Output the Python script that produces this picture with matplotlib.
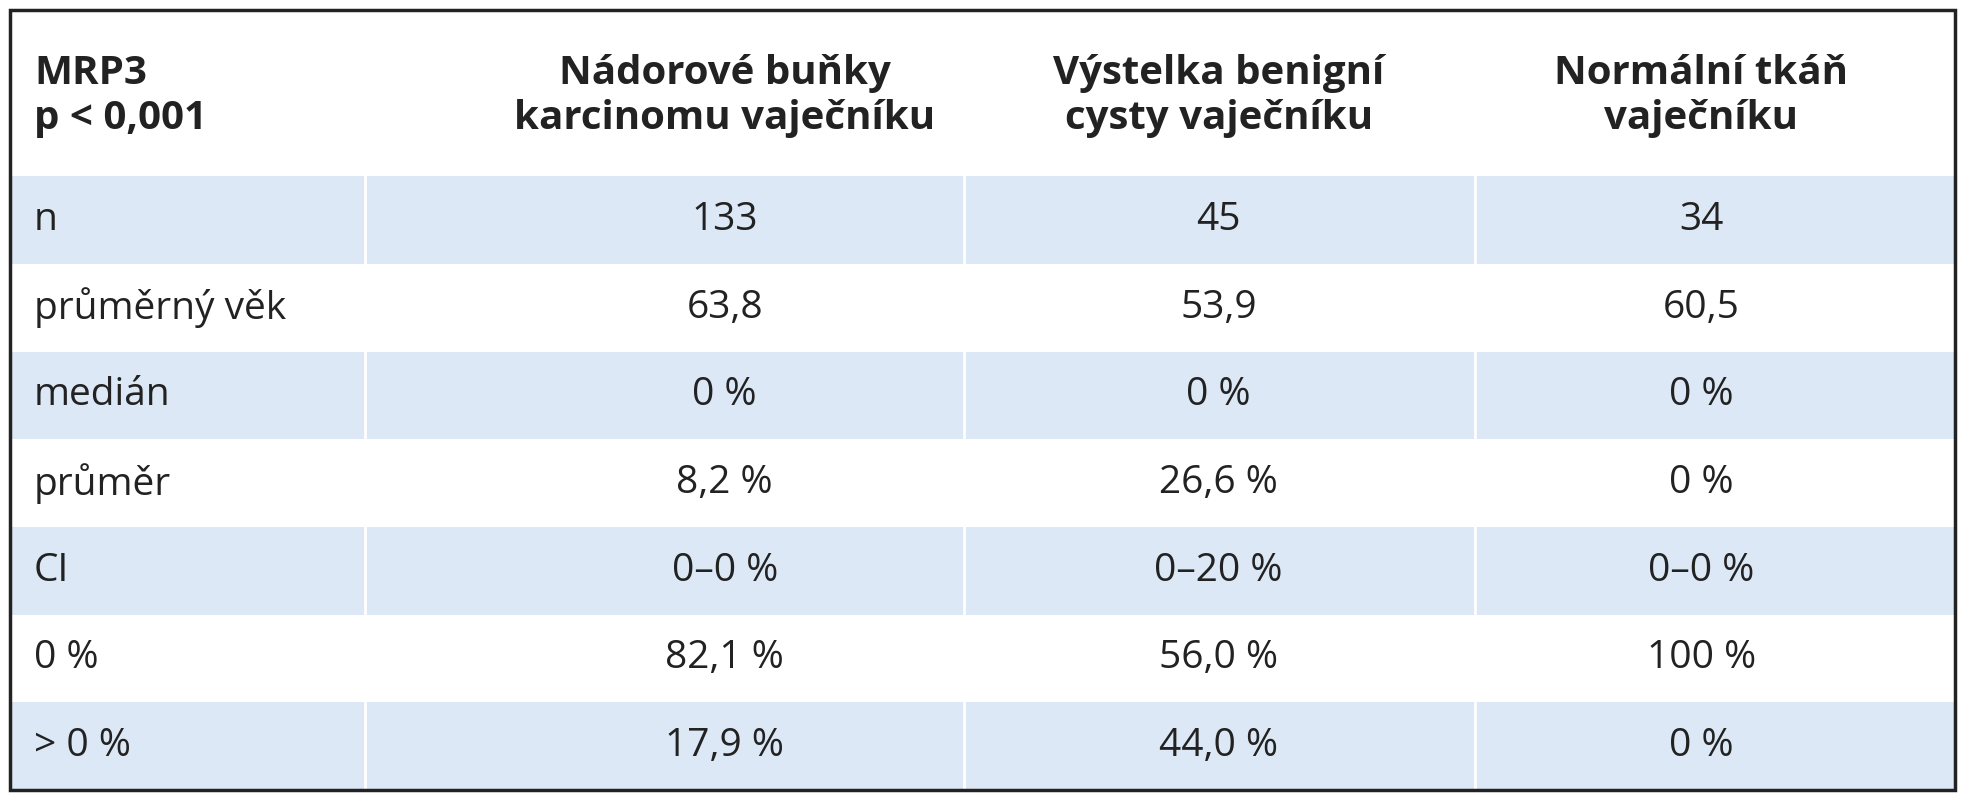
import matplotlib
matplotlib.use("Agg")
import matplotlib.pyplot as plt
from matplotlib.patches import Rectangle

header = ["MRP3\np < 0,001", "Nádorové buňky\nkarcinomu vaječníku", "Výstelka benigní\ncysty vaječníku", "Normální tkáň\nvaječníku"]
row_labels = ["n", "průměrný věk", "medián", "průměr", "CI", "0 %", "> 0 %"]
col1 = ["133", "63,8", "0 %", "8,2 %", "0–0 %", "82,1 %", "17,9 %"]
col2 = ["45", "53,9", "0 %", "26,6 %", "0–20 %", "56,0 %", "44,0 %"]
col3 = ["34", "60,5", "0 %", "0 %", "0–0 %", "100 %", "0 %"]

plt.rcParams['font.family'] = ['Open Sans', 'DejaVu Sans']
fig = plt.figure(figsize=(19.66, 8), dpi=100)
ax = fig.add_axes([0, 0, 1, 1])
ax.set_xlim(0, 1560); ax.set_ylim(640, 0); ax.axis('off')

L, R, T, B = 8, 1551, 8, 632
hdr_bottom = 141
rh = (B - hdr_bottom) / len(row_labels)
xs = [L, 290, 765, 1170, R]
centers = [575, 967, 1350]
blue = "#dce8f5"

ax.add_patch(Rectangle((L, T), R - L, B - T, fill=False, ec="#222222", lw=2.5, zorder=5))
ax.text(27, 77, header[0], fontsize=29, fontweight='bold', va='center', ha='left', color="#222222", linespacing=1.2)
for c, h in zip(centers, header[1:]):
    ax.text(c, 77, h, fontsize=29, fontweight='bold', va='center', ha='center', color="#222222", linespacing=1.2)

for i, lab in enumerate(row_labels):
    y0 = hdr_bottom + i * rh
    if i % 2 == 0:
        ax.add_patch(Rectangle((L, y0), R - L, rh, color=blue, lw=0))
        for x in xs[1:-1]:
            ax.plot([x, x], [y0, y0 + rh], color="white", lw=2)
    yc = y0 + rh / 2
    ax.text(27, yc, lab, fontsize=28, va='center', ha='left', color="#222222")
    for c, v in zip(centers, (col1[i], col2[i], col3[i])):
        ax.text(c, yc, v, fontsize=28, va='center', ha='center', color="#222222")

fig.savefig("out.png", dpi=100, facecolor="white")
